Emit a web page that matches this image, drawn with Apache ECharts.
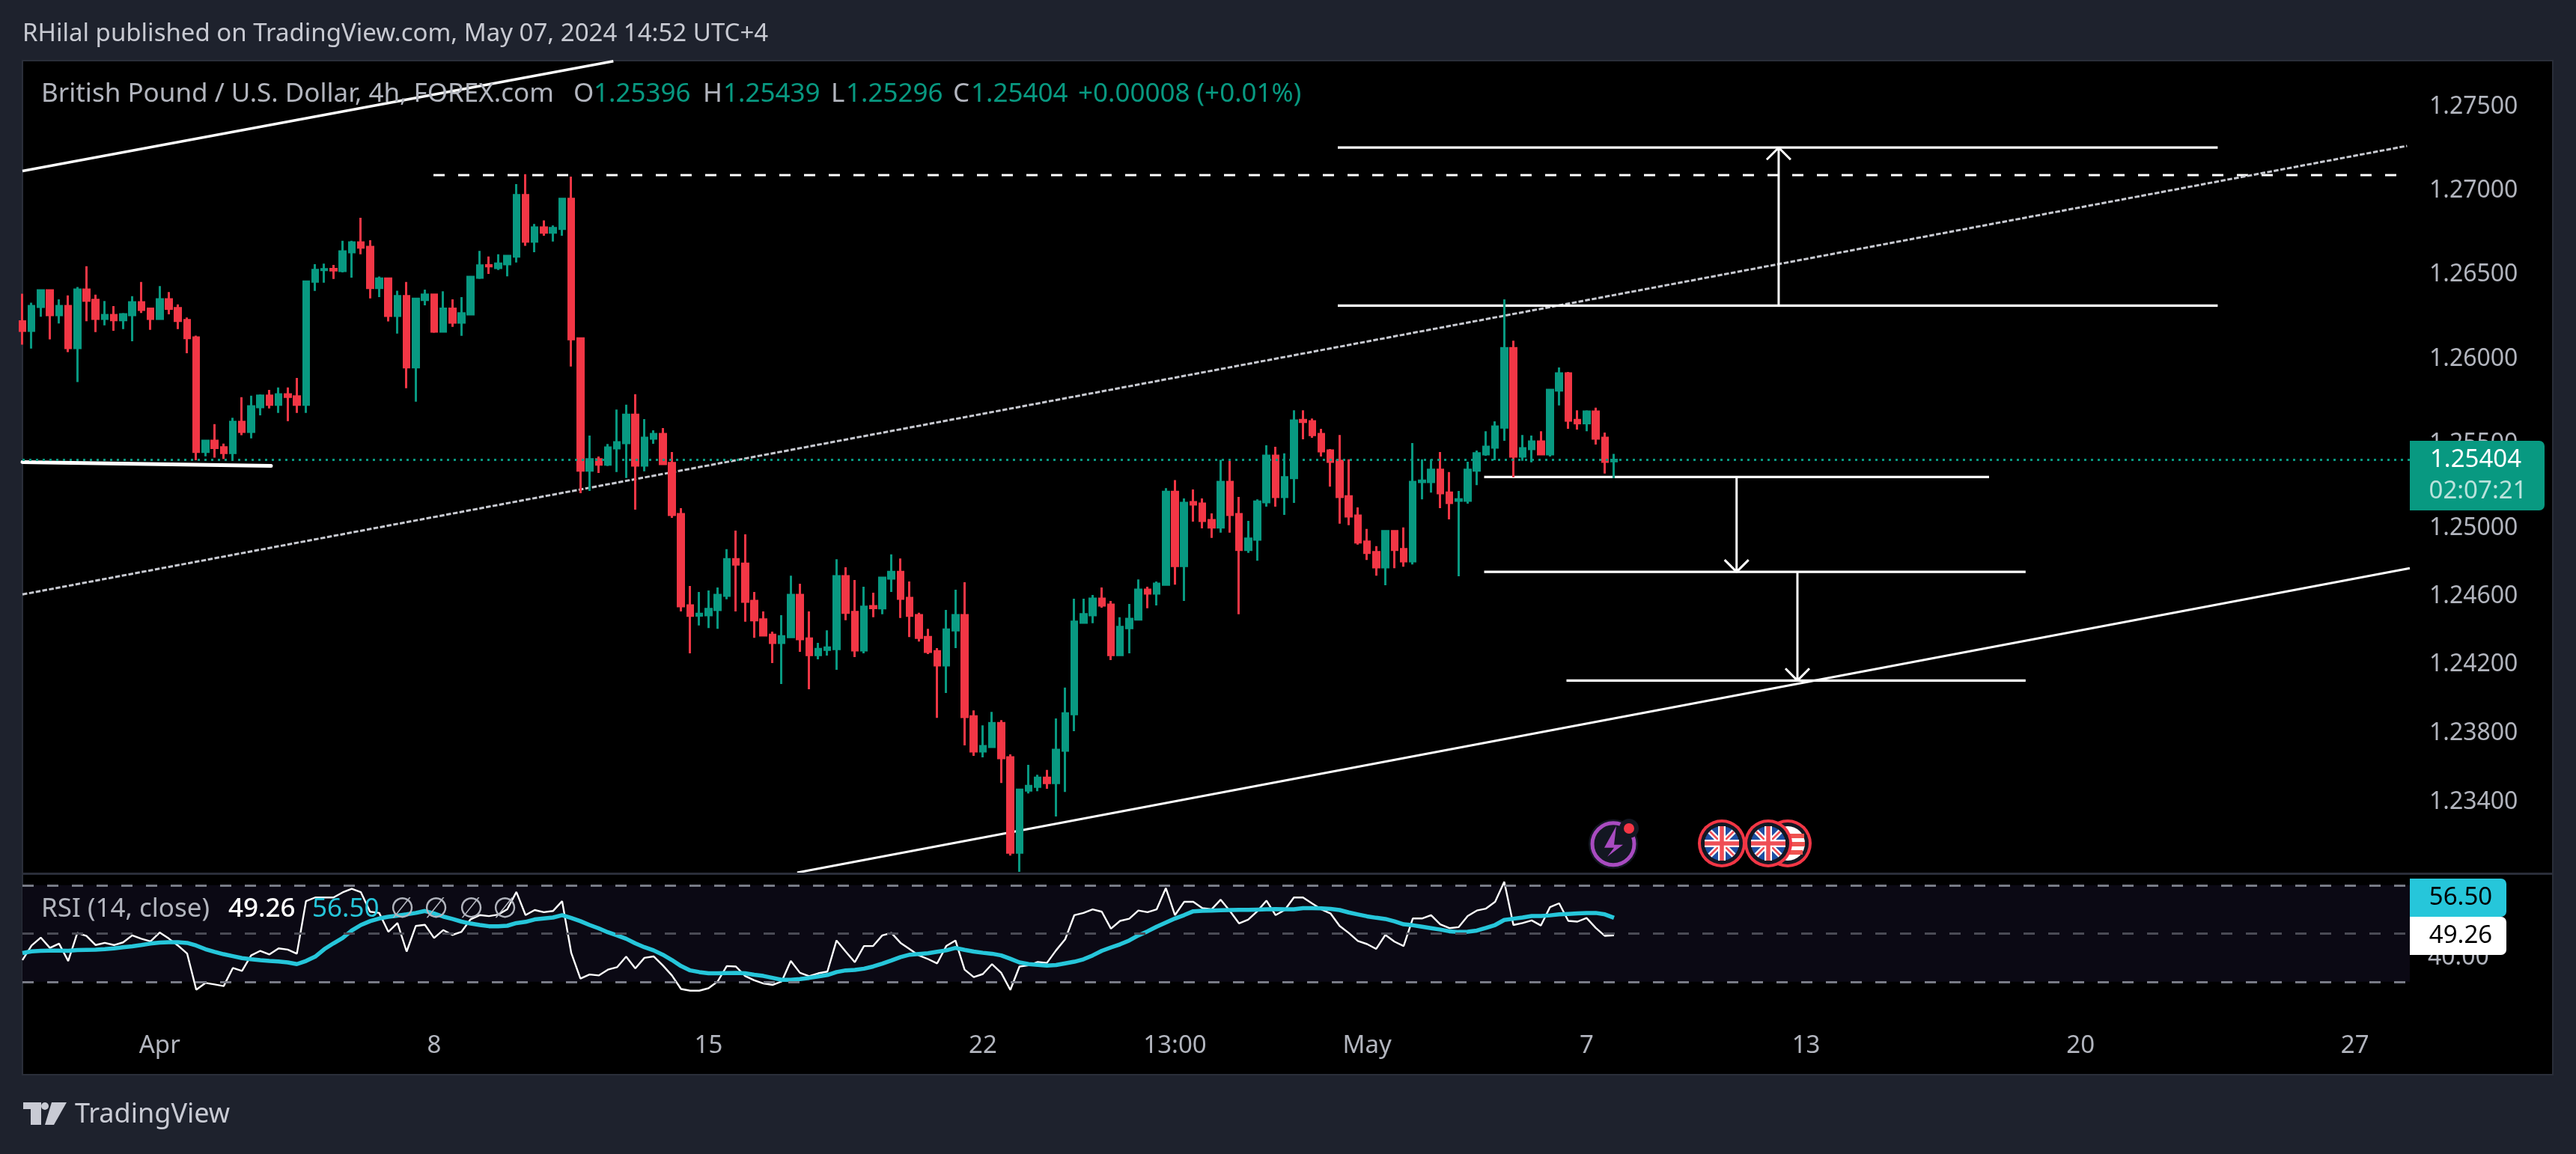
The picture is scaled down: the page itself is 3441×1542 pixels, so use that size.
<!DOCTYPE html>
<html><head><meta charset="utf-8">
<style>html,body{margin:0;padding:0;background:#1E222D}#c{width:3441px;height:1542px}</style>
<script src="https://cdn.jsdelivr.net/npm/echarts@6/dist/echarts.min.js"></script>
</head><body><div id="c"></div>
<script>
// OHLC in points (1e-5), one value per 4h candle
const opens=[126220,126165,126307,126404,126258,126311,126064,126408,126347,126236,
126258,126228,126258,126333,126295,126236,126351,126299,126228,126126,
125451,125516,125478,125445,125628,125569,125715,125782,125729,125790,
125778,125729,126455,126524,126530,126518,126629,126686,126660,126418,
126473,126254,126370,125950,126347,126378,126161,126295,126214,126262,
126479,126552,126536,126558,126603,126966,126692,126775,126745,126767,
126943,126120,125341,125407,125376,125472,125503,125670,125371,125530,
125556,125385,125084,124545,124486,124488,124519,124603,124818,124791,
124572,124462,124372,124324,124359,124607,124350,124253,124284,124288,
124717,124506,124280,124541,124528,124704,124743,124589,124488,124359,
124275,124192,124398,124488,123891,123684,123711,123851,123649,123087,
123454,123476,123529,123498,123689,123904,124444,124488,124585,124550,
124253,124411,124462,124638,124616,124668,125215,124778,125154,125145,
125048,125005,125273,125084,124873,124934,125154,125428,125185,125297,
125639,125631,125556,125459,125398,125189,125075,124921,124860,124770,
124983,124877,124805,125273,125273,125345,125211,125163,125163,125341,
125437,125477,125595,126063,125424,125468,125512,125437,125813,125914,
125639,125620,125688,125534,125396];
const highs=[126384,126331,126410,126408,126351,126374,126424,126546,126378,126341,
126311,126270,126370,126453,126295,126429,126394,126321,126244,126137,
125520,125614,125500,125652,125774,125782,125790,125816,125831,125831,
125887,126455,126558,126562,126554,126696,126696,126832,126700,126485,
126475,126402,126453,126356,126408,126380,126398,126351,126364,126483,
126637,126603,126617,126613,127031,127089,126795,126816,126787,126943,
127075,126125,125547,125424,125497,125701,125729,125791,125644,125578,
125591,125450,125119,124660,124625,124633,124651,124877,124987,124965,
124625,124510,124390,124488,124721,124673,124510,124324,124398,124818,
124770,124695,124655,124620,124712,124846,124822,124686,124502,124407,
124293,124519,124638,124682,123926,123838,123917,123869,123667,123458,
123605,123546,123575,123878,124060,124585,124585,124607,124651,124572,
124475,124554,124699,124655,124686,125237,125284,125176,125229,125176,
125088,125404,125407,125185,125044,125171,125490,125481,125442,125696,
125696,125648,125587,125468,125551,125407,125123,124996,124895,124983,
124985,125005,125503,125407,125407,125450,125332,125220,125393,125459,
125573,125631,126351,126107,125551,125547,125573,125822,125949,125923,
125696,125696,125712,125565,125439];
const lows=[126084,126060,126248,126114,126208,126039,125863,126222,126157,126197,
126165,126175,126104,126270,126171,126230,126262,126175,126033,125401,
125425,125417,125409,125401,125549,125531,125666,125707,125681,125632,
125681,125681,126400,126449,126471,126510,126479,126617,126356,126364,
126220,126149,125826,125747,126315,126153,126155,126189,126135,126258,
126471,126501,126524,126487,126568,126666,126629,126726,126692,126726,
125954,125207,125220,125327,125367,125332,125297,125110,125336,125499,
125376,125062,124510,124262,124427,124411,124407,124581,124510,124449,
124354,124366,124205,124082,124357,124271,124051,124227,124249,124165,
124458,124240,124262,124475,124493,124625,124471,124359,124332,124258,
123882,124029,124293,123720,123658,123649,123709,123498,123069,122973,
123436,123449,123463,123300,123445,123803,124442,124440,124532,124223,
124249,124262,124458,124528,124545,124664,124668,124572,125040,125000,
124943,124974,124974,124493,124855,124809,125128,125128,125079,125150,
125525,125534,125424,125246,125027,125018,124904,124813,124721,124664,
124765,124774,124787,125171,125211,125119,125053,124717,125145,125255,
125428,125402,125516,125301,125398,125389,125435,125424,125725,125587,
125582,125573,125494,125323,125296];
const closes=[126165,126311,126404,126258,126311,126064,126408,126343,126236,126258,
126228,126262,126333,126289,126236,126351,126295,126224,126122,125451,
125516,125474,125445,125628,125569,125719,125782,125729,125790,125776,
125729,126455,126524,126528,126522,126633,126686,126656,126418,126473,
126254,126370,125950,126354,126378,126161,126295,126214,126268,126483,
126550,126546,126562,126607,126966,126692,126775,126745,126771,126943,
126116,125341,125407,125376,125477,125508,125670,125371,125534,125556,
125380,125079,124541,124484,124495,124524,124607,124818,124787,124567,
124458,124368,124324,124363,124607,124346,124253,124288,124297,124717,
124502,124280,124537,124530,124708,124743,124585,124484,124354,124271,
124192,124403,124488,123887,123684,123715,123851,123645,123087,123458,
123480,123529,123498,123693,123908,124449,124493,124585,124545,124253,
124418,124466,124638,124616,124673,125215,124778,125150,125141,125044,
125005,125273,125079,124873,124939,125158,125428,125185,125301,125635,
125628,125551,125455,125393,125185,125070,124917,124855,124770,124983,
124873,124805,125273,125281,125345,125207,125150,125171,125345,125442,
125481,125600,126063,125424,125472,125512,125437,125817,125914,125635,
125620,125688,125530,125393,125404];
const rsi=[39.0,45.0,48.3,44.0,45.8,38.6,50.2,49.0,45.2,46.1,
45.2,46.3,49.2,47.8,46.7,50.4,47.9,45.0,41.7,26.7,
29.5,28.9,28.2,35.7,34.5,40.9,42.8,41.3,43.8,43.3,
41.6,63.4,64.9,64.9,64.9,67.0,68.5,67.1,59.0,58.5,
50.7,54.3,42.5,53.1,53.6,48.1,51.4,49.4,50.7,55.9,
57.6,57.2,57.8,60.0,67.2,57.6,59.7,58.8,59.3,63.4,
41.9,31.3,33.0,32.6,35.0,36.0,40.4,35.5,39.9,40.5,
36.8,32.6,27.0,26.3,26.3,27.3,30.1,36.5,36.3,32.4,
30.6,29.3,28.7,30.1,38.6,33.7,32.3,33.5,34.2,47.1,
42.5,38.1,44.8,44.8,49.2,50.2,46.1,43.5,40.9,39.4,
37.6,44.8,47.1,35.0,31.9,33.2,37.3,33.7,26.6,36.3,
36.8,38.2,37.8,43.0,47.6,57.6,58.5,60.0,59.0,52.0,
55.2,56.1,59.5,58.8,60.0,68.8,57.6,63.1,63.1,60.5,
60.0,64.0,59.3,54.2,55.7,59.2,63.6,57.6,59.7,64.9,
64.9,62.4,60.0,58.3,53.1,50.2,46.9,45.6,43.6,49.4,
46.6,44.8,56.2,56.2,57.6,53.8,52.2,52.6,57.2,59.5,
60.3,63.1,71.4,53.5,54.3,55.4,53.3,60.9,62.5,55.2,
54.9,56.4,52.3,49.0,49.26];
const rsiMA=[41.9,42.6,42.8,42.9,42.9,42.8,43.1,43.2,43.3,43.5,
43.8,44.3,44.7,45.2,45.8,46.2,46.4,46.4,46.1,45.0,
43.5,42.4,41.4,40.6,39.8,39.3,38.9,38.6,38.4,38.0,
37.3,38.6,40.4,43.5,45.9,48.1,51.2,53.5,55.1,56.2,
56.9,57.4,57.9,58.5,59.3,58.3,57.0,56.0,54.9,54.1,
53.5,53.0,53.0,53.2,54.3,54.8,55.8,56.2,56.6,57.6,
56.4,55.1,53.5,52.1,50.5,49.2,47.8,45.9,44.3,43.0,
41.2,39.0,36.5,34.7,34.0,33.5,33.5,33.6,33.7,33.5,
32.9,32.4,31.6,30.8,30.8,31.1,31.6,32.2,32.8,34.0,
34.7,34.9,35.4,36.3,37.5,38.8,40.2,41.2,41.5,41.8,
42.4,43.0,44.0,43.2,42.5,42.0,41.6,40.9,39.5,38.0,
37.3,37.0,36.7,36.9,37.6,38.3,39.3,40.9,42.8,44.2,
45.5,47.1,49.2,50.9,52.8,54.5,56.2,57.6,59.2,59.4,
59.5,59.6,59.7,59.8,59.8,59.9,60.0,60.1,60.0,60.0,
60.5,60.5,60.4,60.2,59.7,58.7,57.9,57.1,56.5,56.0,
55.0,53.8,53.4,52.8,52.2,51.6,50.9,50.6,50.7,51.2,
52.3,53.5,55.6,56.1,56.6,57.2,57.2,57.5,57.9,58.1,
58.3,58.5,58.5,57.9,56.5];
const priceTicks=[1.275,1.27,1.265,1.26,1.255,1.25,1.246,1.242,1.238,1.234];
const rsiTicks=[40];
const timeTickIndex=[15,45,75,105,126,147,171,195,225,255];
const timeTickLabels=['Apr','8','15','22','13:00','May','7','13','20','27'];
const lastPrice=125404;
// drawings, as [candle index, price in points]
const topChannel=[[0,127108],[64.6,127756]];
const shortSupport=[[0,125391],[27.17,125368]];
const resistance=[[44.93,127084],[259.6,127084]];
const midChannel=[[0,124610],[260.7,127256]];
const lowChannel=[[84.7,122969],[261,124765]];
const levels=[
 [[143.8,127246],[240,127246]],
 [[143.8,126314],[240,126314]],
 [[159.8,125303],[215,125303]],
 [[159.8,124743],[219,124743]],
 [[168.8,124102],[219,124102]]];
const arrows=[[192.0,126314,127246],[187.4,125303,124743],[194.05,124743,124102]];

const SLOTS=262, RED='#F23645', GREEN='#089981', CYAN='#26C6DA', GREY='#B2B5BE';
const FONT='"Noto Sans", Lato, sans-serif';
const P=v=>v/1e5, pts=a=>a.map(d=>[d[0],P(d[1])]);
const cats=Array.from({length:SLOTS},()=> '');
timeTickIndex.forEach((ix,k)=>cats[ix]=timeTickLabels[k]+'');
const candles=opens.map((o,i)=>[P(o),P(closes[i]),P(lows[i]),P(highs[i])]);
// The reference's price scale is logarithmic, the plotted one is linear: tick labels sit where the
// log scale puts them, a few pixels from their linear position.
const tickPos=t=>1.25+28412*Math.log(t/1.25)/22650;
const tickLabel=v=>priceTicks.reduce((b,t)=>Math.abs(tickPos(t)-v)<Math.abs(tickPos(b)-v)?t:b,priceTicks[0]).toFixed(5);

function draw(data,w,color,dash,z,cap){
  return {type:'line',xAxisIndex:2,yAxisIndex:0,data:pts(data),symbol:'none',silent:true,animation:false,z:z||1,
    lineStyle:{color,width:w,type:dash||'solid',cap:cap||'butt'}};
}
const series=[
  draw(topChannel,3.5,'#fff'),
  draw(shortSupport,5,'#fff',null,1,'round'),
  draw(resistance,3,'#fff',[15,18]),
  draw(midChannel,3,'#C8CAD1',[6.5,2.5]),
  draw(lowChannel,3,'#fff'),
];
levels.forEach(l=>series.push(draw(l,3.2,'#fff')));
arrows.forEach(a=>{
  const [x,from,to]=a, back=to>from?-71:71;
  series.push(draw([[x,from],[x,to],[x-1.31,to+back],[x,to],[x+1.31,to+back]],3,'#fff'));
});
series.push({type:'candlestick',xAxisIndex:0,yAxisIndex:0,data:candles,barWidth:8,z:2,silent:true,animation:false,
  itemStyle:{color:GREEN,color0:RED,borderColor:GREEN,borderColor0:RED,borderColorDoji:GREEN,borderWidth:3}});
series.push(draw([[0,lastPrice],[261,lastPrice]],3,GREEN,[3,6],3));
series.push({type:'line',xAxisIndex:1,yAxisIndex:1,data:rsi,symbol:'none',silent:true,animation:false,z:3,
  lineStyle:{color:'#fff',width:2.4},
  markArea:{silent:true,itemStyle:{color:'#0B0914'},data:[[{yAxis:70},{yAxis:30}]]},
  markLine:{silent:true,symbol:'none',animation:false,label:{show:false},
    data:[{yAxis:70,lineStyle:{color:'#787B86',width:3,type:[15,18]}},
          {yAxis:50,lineStyle:{color:'#4A4B55',width:3,type:[15,18]}},
          {yAxis:30,lineStyle:{color:'#787B86',width:3,type:[15,18]}}]}});
series.push({type:'line',xAxisIndex:1,yAxisIndex:1,data:rsiMA,symbol:'none',silent:true,animation:false,z:4,
  lineStyle:{color:CYAN,width:5.5}});

// page furniture
const T=(x,y,text,fill,size,align,weight)=>({type:'text',z:100,silent:true,
  style:{x,y,text,fill,font:(weight||'normal')+' '+(size||32)+'px '+FONT,textAlign:align||'left',textVerticalAlign:'middle'}});
const C=(cx,cy,r,fill,stroke,lw)=>({type:'circle',z:100,silent:true,shape:{cx,cy,r},style:{fill:fill||'none',stroke:stroke||'none',lineWidth:lw||0}});
const L=(x1,y1,x2,y2,stroke,lw)=>({type:'line',z:100,silent:true,shape:{x1,y1,x2,y2},style:{stroke,lineWidth:lw}});
const R=(x,y,w,h,fill,r)=>({type:'rect',z:100,silent:true,shape:{x,y,width:w,height:h,r:r||0},style:{fill}});
const G=(points,fill)=>({type:'polygon',z:100,silent:true,shape:{points},style:{fill}});
function ukFlag(cx,cy){
  const r=23,d=16;
  return [C(cx,cy,32,'#F23645'),C(cx,cy,28,'#131722'),C(cx,cy,r,'#1E4FA3'),
    L(cx-d,cy-d,cx+d,cy+d,'#fff',7),L(cx-d,cy+d,cx+d,cy-d,'#fff',7),
    L(cx-d,cy-d,cx+d,cy+d,'#EF4E55',2.5),L(cx-d,cy+d,cx+d,cy-d,'#EF4E55',2.5),
    L(cx-r,cy,cx+r,cy,'#fff',10),L(cx,cy-r,cx,cy+r,'#fff',10),
    L(cx-r,cy,cx+r,cy,'#EF4E55',5.5),L(cx,cy-r,cx,cy+r,'#EF4E55',5.5)];
}
const bx=2155,by=1127.7;
const graphic=[
  {type:'rect',z:-1,silent:true,shape:{x:30,y:81,width:3380,height:1355},style:{fill:'#000',stroke:'#2A2E39',lineWidth:2}},
  R(30,1166,3380,3,'#2A2E39'),
  T(30,46,'RHilal published on TradingView.com, May 07, 2024 14:52 UTC+4','#C8CAD2',33),
  T(55,126,'British Pound / U.S. Dollar, 4h, FOREX.com',GREY,35),
  T(766,126,'O',GREY,35),T(793,126,'1.25396',GREEN,35),
  T(939,126,'H',GREY,35),T(966,126,'1.25439',GREEN,35),
  T(1110,126,'L',GREY,35),T(1130,126,'1.25296',GREEN,35),
  T(1273,126,'C',GREY,35),T(1297,126,'1.25404',GREEN,35),
  T(1440,126,'+0.00008 (+0.01%)',GREEN,35),
  T(55,1215,'RSI (14, close)',GREY,35),
  T(305,1215,'49.26','#fff',35,'left','500'),
  T(417,1215,'56.50',CYAN,35),
  T(537,1215,'∅',GREY,38,'center'),T(582,1215,'∅',GREY,38,'center'),T(629,1215,'∅',GREY,38,'center'),T(674,1215,'∅',GREY,38,'center'),
  // last price tag
  R(3219,589,180,93,GREEN,[0,7,7,0]),
  T(3307,615,'1.25404','#fff',33,'center'),
  T(3310,657,'02:07:21','rgba(255,255,255,0.72)',33,'center'),
  // RSI tags
  R(3219,1174,129,51,CYAN,[0,7,7,0]),
  R(3219,1225,129,51,'#fff',[0,7,7,0]),
  T(3287,1200,'56.50','#000',33,'center'),
  T(3287,1251,'49.26','#000',33,'center'),
  // event icons
  C(bx,by,33,'#131722'),C(bx,by,28,'none','#A84BC0',5),
  G([[bx+4,by-24],[bx-12,by+5],[bx+1,by+5],[bx-8,by+17],[bx+13,by+1],[bx+1,by+1]],'#A84BC0'),
  C(2176,1107,13,'#131722'),C(2176,1107,7,RED),
  C(2388,1127,32,RED),C(2388,1127,28,'#131722'),C(2388,1127,23,'#fff'),
  L(2366,1117,2410,1117,'#EF5350',6),L(2364,1128,2411,1128,'#EF5350',6),L(2368,1139,2408,1139,'#EF5350',6),
  ...ukFlag(2300,1127),...ukFlag(2362,1127),
  // TradingView mark
  G([[31,1473],[55,1473],[55,1503],[41,1503],[41,1482],[31,1482]],'#C9CBD4'),
  C(60,1478,5,'#C9CBD4'),
  G([[69,1473],[89,1473],[72,1503],[60,1503]],'#C9CBD4'),
  T(100,1490,'TradingView','#C9CBD4',36),
];

const chart=echarts.init(document.getElementById('c'),null,{renderer:'canvas',devicePixelRatio:1});
chart.setOption({
  animation:false,backgroundColor:'#1E222D',
  grid:[{left:30,top:81,width:3189,height:1085,show:false},
        {left:30,top:1169,width:3189,height:187,show:false}],
  xAxis:[
    {type:'category',gridIndex:0,data:cats,boundaryGap:false,show:false},
    {type:'category',gridIndex:1,data:cats,boundaryGap:false,
      axisLine:{show:false},axisTick:{show:false},splitLine:{show:false},
      axisLabel:{interval:0,hideOverlap:false,color:GREY,fontFamily:FONT,fontSize:33,margin:25}},
    {type:'value',gridIndex:0,min:0,max:SLOTS-1,show:false}
  ],
  yAxis:[
    {type:'value',gridIndex:0,position:'right',min:1.22969,max:1.27759,scale:true,
      axisLine:{show:false},axisTick:{show:false},splitLine:{show:false},
      axisLabel:{customValues:priceTicks.map(tickPos),formatter:tickLabel,color:GREY,fontFamily:FONT,fontSize:32,margin:26}},
    {type:'value',gridIndex:1,position:'right',min:16.3,max:74.28,
      axisLine:{show:false},axisTick:{show:false},splitLine:{show:false},
      axisLabel:{customValues:rsiTicks,formatter:v=>v.toFixed(2),color:GREY,fontFamily:FONT,fontSize:32,margin:24}}
  ],
  series,graphic
});
</script></body></html>
